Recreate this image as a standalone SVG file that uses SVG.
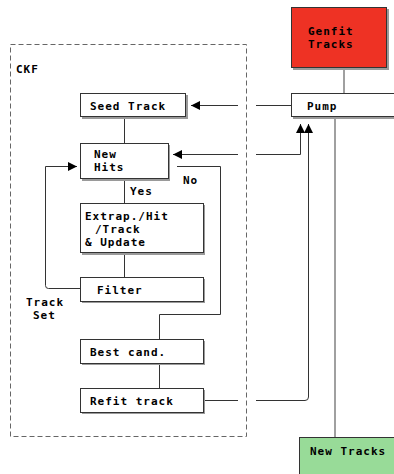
<svg xmlns="http://www.w3.org/2000/svg" width="394" height="474" viewBox="0 0 394 474">
<defs>
<marker id="ah" viewBox="0 0 10 10" refX="10" refY="5" markerWidth="10" markerHeight="9" markerUnits="userSpaceOnUse" orient="auto">
<path d="M0,0 L10,5 L0,10 z" fill="#000"/>
</marker>
</defs>
<style>
.box{fill:#fff;stroke:#333;stroke-width:1}
.sh{fill:#9a9a9a}
.t{font-family:"DejaVu Sans Mono","Liberation Mono",monospace;font-size:11px;letter-spacing:1px;font-weight:bold;fill:#000}
.ln{fill:none;stroke:#333;stroke-width:1}
.gl{fill:none;stroke:#808080;stroke-width:1.5}
.ar{marker-end:url(#ah)}
</style>
<rect width="394" height="474" fill="#fff"/>
<g id="ckf">
<rect x="10.5" y="44.5" width="236" height="392" fill="none" stroke="#666" stroke-width="1" stroke-dasharray="5,3"/>
<text class="t" x="16" y="73">CKF</text>
</g>
<g id="connectors">
<path class="gl" d="M344,68 V93"/>
<path class="gl" d="M335,117 V437"/>
<path class="ln" d="M291,105.5 H256"/>
<path class="ln ar" d="M238,105.5 H191"/>
<path class="ln ar" d="M238,154.5 H173"/>
<path class="ln ar" d="M256,154.5 H300.5 V124"/>
<path class="ln" d="M203,400.5 H238"/>
<path class="ln ar" d="M256,400.5 H305 Q308.5,400.5 308.5,397 V124"/>
<path class="ln" d="M177,166.5 H220.5 V314.5 H159.5 V339"/>
<path class="ln" d="M124.5,117 V143"/>
<path class="ln" d="M124.5,179 V203"/>
<path class="ln" d="M124.5,253 V277"/>
<path class="ln" d="M159.5,363 V388"/>
<path class="ln ar" d="M80,288.5 H48.5 Q45.5,288.5 45.5,285.5 V166.5 H77"/>
<text class="t" x="130" y="195">Yes</text>
<text class="t" x="183" y="184">No</text>
<text class="t" x="26" y="306">Track</text>
<text class="t" x="33" y="319">Set</text>
</g>
<g id="genfit">
<rect class="sh" x="293" y="9" width="96" height="61"/>
<rect x="291.5" y="7.5" width="95" height="60" fill="#ee3224" stroke="#333"/>
<text class="t" x="308" y="35">Genfit</text>
<text class="t" x="308" y="48">Tracks</text>
</g>
<g id="pump">
<rect class="sh" x="293" y="95" width="110" height="24"/>
<rect class="box" x="291.5" y="93.5" width="110" height="23"/>
<text class="t" x="307" y="110">Pump</text>
</g>
<g id="newtracks">
<rect class="sh" x="301" y="439" width="100" height="40"/>
<rect x="299.5" y="437.5" width="100" height="40" fill="#98db98" stroke="#333"/>
<text class="t" x="310" y="455">New Tracks</text>
</g>
<g id="seed">
<rect class="sh" x="82" y="95" width="106" height="24"/>
<rect class="box" x="80.5" y="93.5" width="105" height="23"/>
<text class="t" x="90" y="110">Seed Track</text>
</g>
<g id="newhits">
<rect class="sh" x="82" y="145" width="88" height="36"/>
<rect class="box" x="80.5" y="143.5" width="88" height="35"/>
<text class="t" x="94" y="158">New</text>
<text class="t" x="94" y="171">Hits</text>
</g>
<g id="extrap">
<rect class="sh" x="82" y="205" width="123" height="50"/>
<rect class="box" x="80.5" y="203.5" width="123" height="49"/>
<text class="t" x="85" y="220">Extrap./Hit</text>
<text class="t" x="95" y="233">/Track</text>
<text class="t" x="85" y="246">&amp; Update</text>
</g>
<g id="filter">
<rect class="sh" x="82" y="279" width="123" height="24"/>
<rect class="box" x="80.5" y="277.5" width="123" height="24"/>
<text class="t" x="97" y="294">Filter</text>
</g>
<g id="best">
<rect class="sh" x="82" y="341" width="123" height="24"/>
<rect class="box" x="80.5" y="339.5" width="123" height="24"/>
<text class="t" x="90" y="356">Best cand.</text>
</g>
<g id="refit">
<rect class="sh" x="82" y="390" width="123" height="24"/>
<rect class="box" x="80.5" y="388.5" width="123" height="24"/>
<text class="t" x="90" y="405">Refit track</text>
</g>
</svg>
